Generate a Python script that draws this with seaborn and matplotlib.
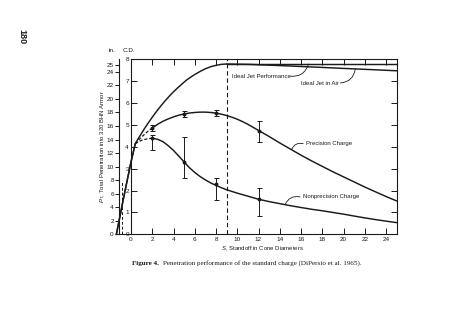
import matplotlib
matplotlib.use("Agg")
import matplotlib.pyplot as plt
import seaborn as sns
import pandas as pd

sns.set_theme(style="white")
plt.rcParams['font.family'] = ['Liberation Sans', 'DejaVu Sans']
plt.rcParams['mathtext.fontset'] = 'custom'
plt.rcParams['mathtext.it'] = 'Liberation Sans:italic'
plt.rcParams['mathtext.rm'] = 'Liberation Sans'

INK = '#1a1a1a'

# ---- data (inches of penetration vs standoff in cone diameters) ----
ideal_x = [-1.38, -0.7, 0.0, 0.4, 0.7, 1.0, 1.3, 1.6, 2.0, 2.4, 2.8, 3.2, 3.6, 4.0, 4.4,
           4.8, 5.2, 5.6, 6.0, 6.5, 7.0, 7.5, 8.0, 8.5, 9.0]
ideal_y = [0.0, 5.4, 10.7, 13.4, 14.2, 14.95, 15.7, 16.4, 17.3, 18.15, 18.95, 19.7, 20.4,
           21.05, 21.65, 22.2, 22.75, 23.2, 23.6, 24.05, 24.45, 24.75, 24.95, 25.1, 25.15]

perf_x = [9.0, 25.0]
perf_y = [25.15, 25.15]

air_x = [9.0, 11.0, 13.0, 15.0, 17.5, 20.0, 22.5, 25.0]
air_y = [25.15, 25.1, 24.98, 24.85, 24.68, 24.5, 24.33, 24.15]

shared_x = [-1.38, -0.7, 0.0, 0.4]
shared_y = [0.0, 5.4, 10.7, 13.4]

prec_dash_x = [0.4, 1.0, 1.5, 2.0]
prec_dash_y = [13.4, 14.4, 15.1, 15.7]
prec_x = [2.0, 2.5, 3.0, 3.5, 4.0, 4.5, 5.0, 5.5, 6.0, 6.5, 7.0, 7.5, 8.0, 8.5, 9.0, 9.5,
          10.0, 10.5, 11.0, 11.5, 12.0, 13.0, 14.0, 15.0, 16.0, 17.0, 18.0, 19.0, 20.0,
          21.0, 22.0, 23.0, 24.0, 25.0]
prec_y = [15.7, 16.25, 16.7, 17.05, 17.35, 17.6, 17.78, 17.92, 18.0, 18.05, 18.05, 18.0,
          17.9, 17.75, 17.55, 17.3, 17.0, 16.65, 16.25, 15.8, 15.35, 14.45, 13.5, 12.6,
          11.7, 10.85, 10.05, 9.25, 8.5, 7.75, 7.0, 6.3, 5.6, 4.95]

nonp_dash_x = [0.4, 1.0, 1.5, 2.0]
nonp_dash_y = [13.4, 13.9, 14.1, 14.2]
nonp_x = [2.0, 2.5, 3.0, 3.5, 4.0, 4.5, 5.0, 5.5, 6.0, 6.5, 7.0, 7.5, 8.0, 8.5, 9.0, 10.0,
          11.0, 12.0, 13.0, 14.0, 15.0, 16.0, 17.0, 18.0, 19.0, 20.0, 21.0, 22.0, 23.0,
          24.0, 25.0]
nonp_y = [14.2, 14.05, 13.7, 13.1, 12.4, 11.55, 10.7, 9.85, 9.15, 8.55, 8.05, 7.6, 7.25,
          6.9, 6.6, 6.1, 5.65, 5.2, 4.85, 4.55, 4.25, 3.98, 3.72, 3.5, 3.25, 3.0, 2.72,
          2.45, 2.2, 1.97, 1.75]

prec_pts_x = [2, 5, 8, 12]
prec_pts_y = [15.7, 17.75, 17.9, 15.3]
prec_lo = [15.2, 17.3, 17.45, 13.6]
prec_hi = [16.1, 18.2, 18.35, 16.8]

nonp_pts_x = [2, 5, 8, 12]
nonp_pts_y = [14.2, 10.65, 7.4, 5.2]
nonp_lo = [12.45, 8.4, 5.1, 2.8]
nonp_hi = [14.7, 14.4, 8.4, 6.9]

cd_ticks = [0, 1, 2, 3, 4, 5, 6, 7, 8]
in_ticks = [0, 2, 4, 6, 8, 10, 12, 14, 16, 18, 20, 22, 24, 25]
x_ticks = [0, 2, 4, 6, 8, 10, 12, 14, 16, 18, 20, 22, 24]
IN_PER_CD = 3.245

# ---- figure ----
fig = plt.figure(figsize=(4.74, 3.30), dpi=100)
fig.patch.set_facecolor('white')
ax = fig.add_axes([0.2764, 0.2894, 0.5605, 0.5333])
ax.set_facecolor('white')
ax.set_xlim(0, 25)
ax.set_ylim(0, 8 * IN_PER_CD)

def line(xs, ys, **kw):
    df = pd.DataFrame({'x': xs, 'y': ys})
    sns.lineplot(data=df, x='x', y='y', ax=ax, sort=False, estimator=None,
                 color=INK, clip_on=False, **kw)

lw = 1.05
line(ideal_x, ideal_y, linewidth=lw)
line(perf_x, perf_y, linewidth=lw)
line(air_x, air_y, linewidth=lw)
line(shared_x, shared_y, linewidth=lw)
line(prec_dash_x, prec_dash_y, linewidth=0.9, linestyle=(0, (2.5, 1.5)))
line(nonp_dash_x, nonp_dash_y, linewidth=0.9, linestyle=(0, (2.5, 1.5)))
line(prec_x, prec_y, linewidth=lw)
line(nonp_x, nonp_y, linewidth=lw)

for px, py, lo, hi in [(prec_pts_x, prec_pts_y, prec_lo, prec_hi),
                       (nonp_pts_x, nonp_pts_y, nonp_lo, nonp_hi)]:
    yerr = [[y - l for y, l in zip(py, lo)], [h - y for y, h in zip(py, hi)]]
    ax.errorbar(px, py, yerr=yerr, fmt='o', ms=1.8, color=INK, ecolor=INK,
                elinewidth=0.7, capsize=1.8, capthick=0.7, clip_on=False, zorder=3)

# dashed verticals
ax.axvline(9, color=INK, lw=0.8, linestyle=(0, (4, 2.5)))
ax.plot([-0.85, -0.85], [0, 7.8], color=INK, lw=0.7, linestyle=(0, (3, 2)), clip_on=False)
# bottom baseline extension to the left
ax.plot([-1.38, 0], [0, 0], color=INK, lw=0.8, clip_on=False)

# spines & ticks
for s in ax.spines.values():
    s.set_color(INK)
    s.set_linewidth(0.8)
ax.set_xticks(x_ticks)
ax.set_xticklabels([str(v) for v in x_ticks])
ax.tick_params(axis='x', direction='in', top=True, bottom=True, length=4, width=0.7,
               colors=INK, labelsize=4.6, pad=2)
ax.set_yticks([c * IN_PER_CD for c in cd_ticks])
ax.set_yticklabels([str(c) for c in cd_ticks])
ax.tick_params(axis='y', direction='in', left=True, right=True, length=4, width=0.7,
               colors=INK, labelsize=4.6, pad=1.5)
ax.yaxis.set_tick_params(which='major', labelright=False)

# inch axis
sec = ax.secondary_yaxis(-0.044)
sec.set_yticks(in_ticks)
sec.set_yticklabels([str(v) for v in in_ticks])
sec.tick_params(direction='out', length=3, width=0.7, colors=INK, labelsize=4.6, pad=1)
sec.spines['left'].set_color(INK)
sec.spines['left'].set_linewidth(0.8)

ax.set_xlabel('')
ax.set_ylabel('')

# annotations with leaders
fs = 4.3
lead = dict(arrowstyle='-', color=INK, lw=0.6, shrinkA=0, shrinkB=0)
ax.text(9.5, 23.3, 'Ideal Jet Performance', fontsize=fs, color=INK, ha='left', va='center')
ax.annotate('', xy=(16.7, 25.15), xytext=(15.0, 23.35),
            arrowprops=dict(connectionstyle='arc3,rad=0.4', **lead))
ax.text(16.0, 22.3, 'Ideal Jet in Air', fontsize=fs, color=INK, ha='left', va='center')
ax.annotate('', xy=(21.1, 24.4), xytext=(19.7, 22.35),
            arrowprops=dict(connectionstyle='arc3,rad=0.4', **lead))
ax.text(16.45, 13.4, 'Precision Charge', fontsize=fs, color=INK, ha='left', va='center')
ax.annotate('', xy=(15.13, 12.6), xytext=(16.2, 13.4),
            arrowprops=dict(connectionstyle='arc3,rad=0.4', **lead))
ax.text(16.15, 5.55, 'Nonprecision Charge', fontsize=fs, color=INK, ha='left', va='center')
ax.annotate('', xy=(14.5, 4.4), xytext=(15.9, 5.55),
            arrowprops=dict(connectionstyle='arc3,rad=0.4', **lead))

# figure texts
fig.text(111.7 / 474, 1 - 51 / 330, 'in.', fontsize=4.6, color=INK, ha='center', va='center')
fig.text(128.5 / 474, 1 - 51 / 330, 'C.D.', fontsize=4.6, color=INK, ha='center', va='center')
fig.text(102.5 / 474, 1 - 147 / 330, '$P_T$, Total Penetration into 320 BHN Armor', fontsize=4.3,
         color=INK, rotation=90, ha='center', va='center')
fig.text(262 / 474, 1 - 249 / 330, '$S$, Standoff in Cone Diameters', fontsize=4.3,
         color=INK, ha='center', va='center')
fig.text(21.7 / 474, 1 - 37 / 330, '180', fontsize=6.5, fontweight='bold', color=INK,
         rotation=-90, ha='center', va='center')

serif = ['Liberation Serif', 'DejaVu Serif']
cap1 = fig.text(131.7 / 474, 1 - 263 / 330, 'Figure 4.', fontsize=5.1, fontweight='bold',
                color=INK, ha='left', va='center', family=serif)
fig.canvas.draw()
bb = cap1.get_window_extent(renderer=fig.canvas.get_renderer())
fig.text(bb.x1 / fig.bbox.width + 4 / 474, 1 - 263 / 330,
         'Penetration performance of the standard charge (DiPersio et al. 1965).',
         fontsize=5.1, color=INK, ha='left', va='center', family=serif)

fig.savefig('out.png', dpi=100, facecolor='white')
